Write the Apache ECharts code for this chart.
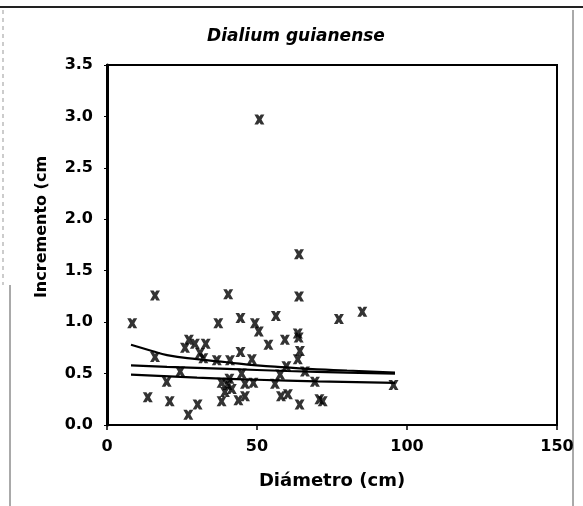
<!DOCTYPE html>
<html>
<head>
<meta charset="utf-8">
<script src="https://cdn.jsdelivr.net/npm/echarts@6/dist/echarts.min.js"></script>
<style>
  html, body { margin: 0; padding: 0; background: #fff; }
  #chart { width: 583px; height: 506px; }
</style>
</head>
<body>
<div id="chart"></div>
<script>
// Diameter (cm) and diameter increment (cm) for each tree
const diametro = [
  8.4, 16, 40.4, 37.1, 44.5, 50.8, 64, 64, 77.3, 85.1,
  56.3, 49.3, 50.6, 27.3, 26, 29.3, 32.9, 31, 32.1, 16,
  24.4, 19.9, 13.6, 20.9, 27.1, 30.2, 36.6, 41, 44.5, 48.3,
  53.8, 59.3, 63.6, 63.9, 64.3, 63.6, 59.8, 44.9, 57.7, 66,
  38.2, 40.8, 40.2, 46, 48.8, 56, 39.3, 41.6, 38.2, 43.8,
  46, 58, 60.3, 64.2, 69.3, 70.8, 71.9, 95.5
];
const incremento = [
  0.99, 1.26, 1.27, 0.99, 1.04, 2.97, 1.66, 1.25, 1.03, 1.10,
  1.06, 0.99, 0.91, 0.83, 0.75, 0.79, 0.79, 0.70, 0.65, 0.66,
  0.52, 0.42, 0.27, 0.23, 0.10, 0.20, 0.63, 0.63, 0.71, 0.64,
  0.78, 0.83, 0.89, 0.85, 0.72, 0.64, 0.57, 0.50, 0.49, 0.52,
  0.41, 0.45, 0.39, 0.40, 0.41, 0.40, 0.32, 0.35, 0.23, 0.24,
  0.28, 0.28, 0.30, 0.20, 0.42, 0.25, 0.23, 0.39
];

// Fitted curves across the diameter range
const curvaSupX = [8, 15, 20, 30, 40, 50, 60, 70, 80, 96];
const curvaSupY = [0.78, 0.72, 0.68, 0.64, 0.61, 0.58, 0.56, 0.54, 0.53, 0.51];
const curvaMedX = [8, 20, 40, 60, 80, 96];
const curvaMedY = [0.58, 0.565, 0.545, 0.525, 0.51, 0.50];
const curvaInfX = [8, 30, 50, 70, 96];
const curvaInfY = [0.49, 0.46, 0.44, 0.425, 0.41];

const xTicks = [0, 50, 100, 150];
const yTicks = [0, 0.5, 1.0, 1.5, 2.0, 2.5, 3.0, 3.5];

const pares = (xs, ys) => xs.map((x, i) => [x, ys[i]]);

const cruz = 'path://M0,0 L3.6,0 L5,2.1 L6.4,0 L10,0 L7.1,5 L10,10 L6.4,10 L5,7.9 L3.6,10 L0,10 L2.9,5 Z';
const fuente = '"DejaVu Sans", sans-serif';

const lineaCurva = (xs, ys) => ({
  type: 'line',
  data: pares(xs, ys),
  smooth: true,
  symbol: 'none',
  lineStyle: { color: '#000', width: 2.2 },
  z: 3
});

const chart = echarts.init(document.getElementById('chart'), null, { renderer: 'canvas' });
chart.setOption({
  animation: false,
  backgroundColor: '#fff',
  title: {
    text: 'Dialium guianense',
    left: 291,
    top: 23,
    textAlign: 'center',
    textStyle: { fontFamily: fuente, fontSize: 17, fontWeight: 'bold', fontStyle: 'italic', color: '#000' }
  },
  grid: { left: 107, right: 26, top: 65, bottom: 81, show: true, borderColor: '#000', borderWidth: 2 },
  xAxis: {
    type: 'value',
    min: xTicks[0],
    max: xTicks[xTicks.length - 1],
    interval: 50,
    name: 'Diámetro (cm)',
    nameLocation: 'middle',
    nameGap: 47,
    nameTextStyle: { fontFamily: fuente, fontSize: 18, fontWeight: 'bold', color: '#000' },
    axisLine: { lineStyle: { color: '#000', width: 2 } },
    axisTick: { show: true, inside: false, length: 5, lineStyle: { color: '#000', width: 1.5 } },
    axisLabel: { fontFamily: fuente, fontSize: 16, fontWeight: 'bold', color: '#000', margin: 14 },
    splitLine: { show: false }
  },
  yAxis: {
    type: 'value',
    min: yTicks[0],
    max: yTicks[yTicks.length - 1],
    interval: 0.5,
    name: 'Incremento (cm',
    nameLocation: 'middle',
    nameGap: 57,
    nameTextStyle: { fontFamily: fuente, fontSize: 16, fontWeight: 'bold', color: '#000', padding: [0, 0, 0, 36] },
    axisLine: { lineStyle: { color: '#000', width: 3 } },
    axisTick: { show: true, length: 3, lineStyle: { color: '#000', width: 1 } },
    axisLabel: {
      fontFamily: fuente, fontSize: 16, fontWeight: 'bold', color: '#000', margin: 14,
      formatter: v => v.toFixed(1)
    },
    splitLine: { show: false }
  },
  series: [
    {
      type: 'scatter',
      data: pares(diametro, incremento),
      symbol: cruz,
      symbolSize: 10,
      itemStyle: { color: '#000' },
      z: 4
    },
    lineaCurva(curvaSupX, curvaSupY),
    lineaCurva(curvaMedX, curvaMedY),
    lineaCurva(curvaInfX, curvaInfY)
  ],
  graphic: [
    { type: 'line', shape: { x1: 0, y1: 7, x2: 583, y2: 7 }, style: { stroke: '#222', lineWidth: 2 } },
    { type: 'line', shape: { x1: 10, y1: 285, x2: 10, y2: 506 }, style: { stroke: '#555', lineWidth: 1 } },
    { type: 'line', shape: { x1: 3, y1: 10, x2: 3, y2: 285 }, style: { stroke: '#999', lineWidth: 1, lineDash: [4, 4] } },
    { type: 'line', shape: { x1: 573, y1: 10, x2: 573, y2: 506 }, style: { stroke: '#555', lineWidth: 1 } }
  ]
});
</script>
</body>
</html>
